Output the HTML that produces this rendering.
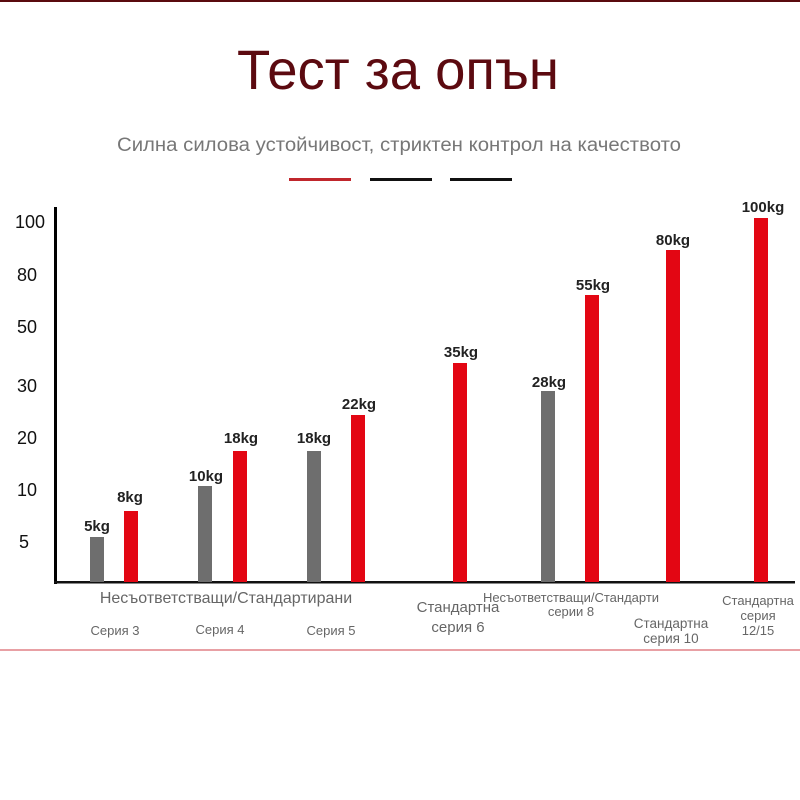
<!DOCTYPE html>
<html><head><meta charset="utf-8"><style>
html,body{margin:0;padding:0;background:#fff;width:800px;height:800px;overflow:hidden}
svg{display:block}
text{font-family:"Liberation Sans","DejaVu Sans",sans-serif}
</style></head><body>
<svg width="800" height="800" viewBox="0 0 800 800" xmlns="http://www.w3.org/2000/svg">
<rect x="0" y="0" width="800" height="2" fill="#5a0a0e"/>
<text x="398" y="89" font-size="56" fill="#5c0a10" text-anchor="middle" textLength="322" lengthAdjust="spacingAndGlyphs">Тест за опън</text>
<text x="399" y="151" font-size="19" fill="#777" text-anchor="middle" textLength="564" lengthAdjust="spacingAndGlyphs">Силна силова устойчивост, стриктен контрол на качеството</text>
<rect x="289" y="178" width="62" height="3" fill="#c0262c"/>
<rect x="370" y="178" width="62" height="3" fill="#111"/>
<rect x="450" y="178" width="62" height="3" fill="#111"/>
<rect x="54" y="207" width="3" height="377" fill="#000"/>
<rect x="54" y="581" width="741" height="2.5" fill="#111"/>
<g font-size="18" fill="#111">
<text x="15" y="228">100</text><text x="17" y="281">80</text><text x="17" y="333">50</text>
<text x="17" y="392">30</text><text x="17" y="444">20</text><text x="17" y="496">10</text><text x="19" y="548">5</text>
</g>
<g fill="#6e6e6e">
<rect x="90" y="537" width="14" height="45"/><rect x="198" y="486" width="14" height="96"/>
<rect x="307" y="451" width="14" height="131"/><rect x="541" y="391" width="14" height="191"/>
</g>
<g fill="#e30613">
<rect x="124" y="511" width="14" height="71"/><rect x="233" y="451" width="14" height="131"/>
<rect x="351" y="415" width="14" height="167"/><rect x="453" y="363" width="14" height="219"/>
<rect x="585" y="295" width="14" height="287"/><rect x="666" y="250" width="14" height="332"/>
<rect x="754" y="218" width="14" height="364"/>
</g>
<g font-size="15" font-weight="600" fill="#222" text-anchor="middle">
<text x="97" y="531">5kg</text><text x="130" y="502">8kg</text>
<text x="206" y="481">10kg</text><text x="241" y="443">18kg</text>
<text x="314" y="443">18kg</text><text x="359" y="409">22kg</text>
<text x="461" y="357">35kg</text><text x="549" y="387">28kg</text>
<text x="593" y="290">55kg</text><text x="673" y="245">80kg</text><text x="763" y="212">100kg</text>
</g>
<g fill="#666" text-anchor="middle">
<text x="226" y="603" font-size="16">Несъответстващи/Стандартирани</text>
<text x="115" y="635" font-size="13">Серия 3</text>
<text x="220" y="634" font-size="13">Серия 4</text>
<text x="331" y="635" font-size="13">Серия 5</text>
<text x="458" y="612" font-size="15">Стандартна</text>
<text x="458" y="632" font-size="15">серия 6</text>
<text x="571" y="602" font-size="13">Несъответстващи/Стандарти</text>
<text x="571" y="616" font-size="13">серии 8</text>
<text x="671" y="628" font-size="13.5">Стандартна</text>
<text x="671" y="643" font-size="13.5">серия 10</text>
<text x="758" y="605" font-size="13">Стандартна</text>
<text x="758" y="620" font-size="13">серия</text>
<text x="758" y="635" font-size="13">12/15</text>
</g>
<rect x="0" y="649" width="800" height="2" fill="#e8a0a4"/>
</svg>
</body></html>
